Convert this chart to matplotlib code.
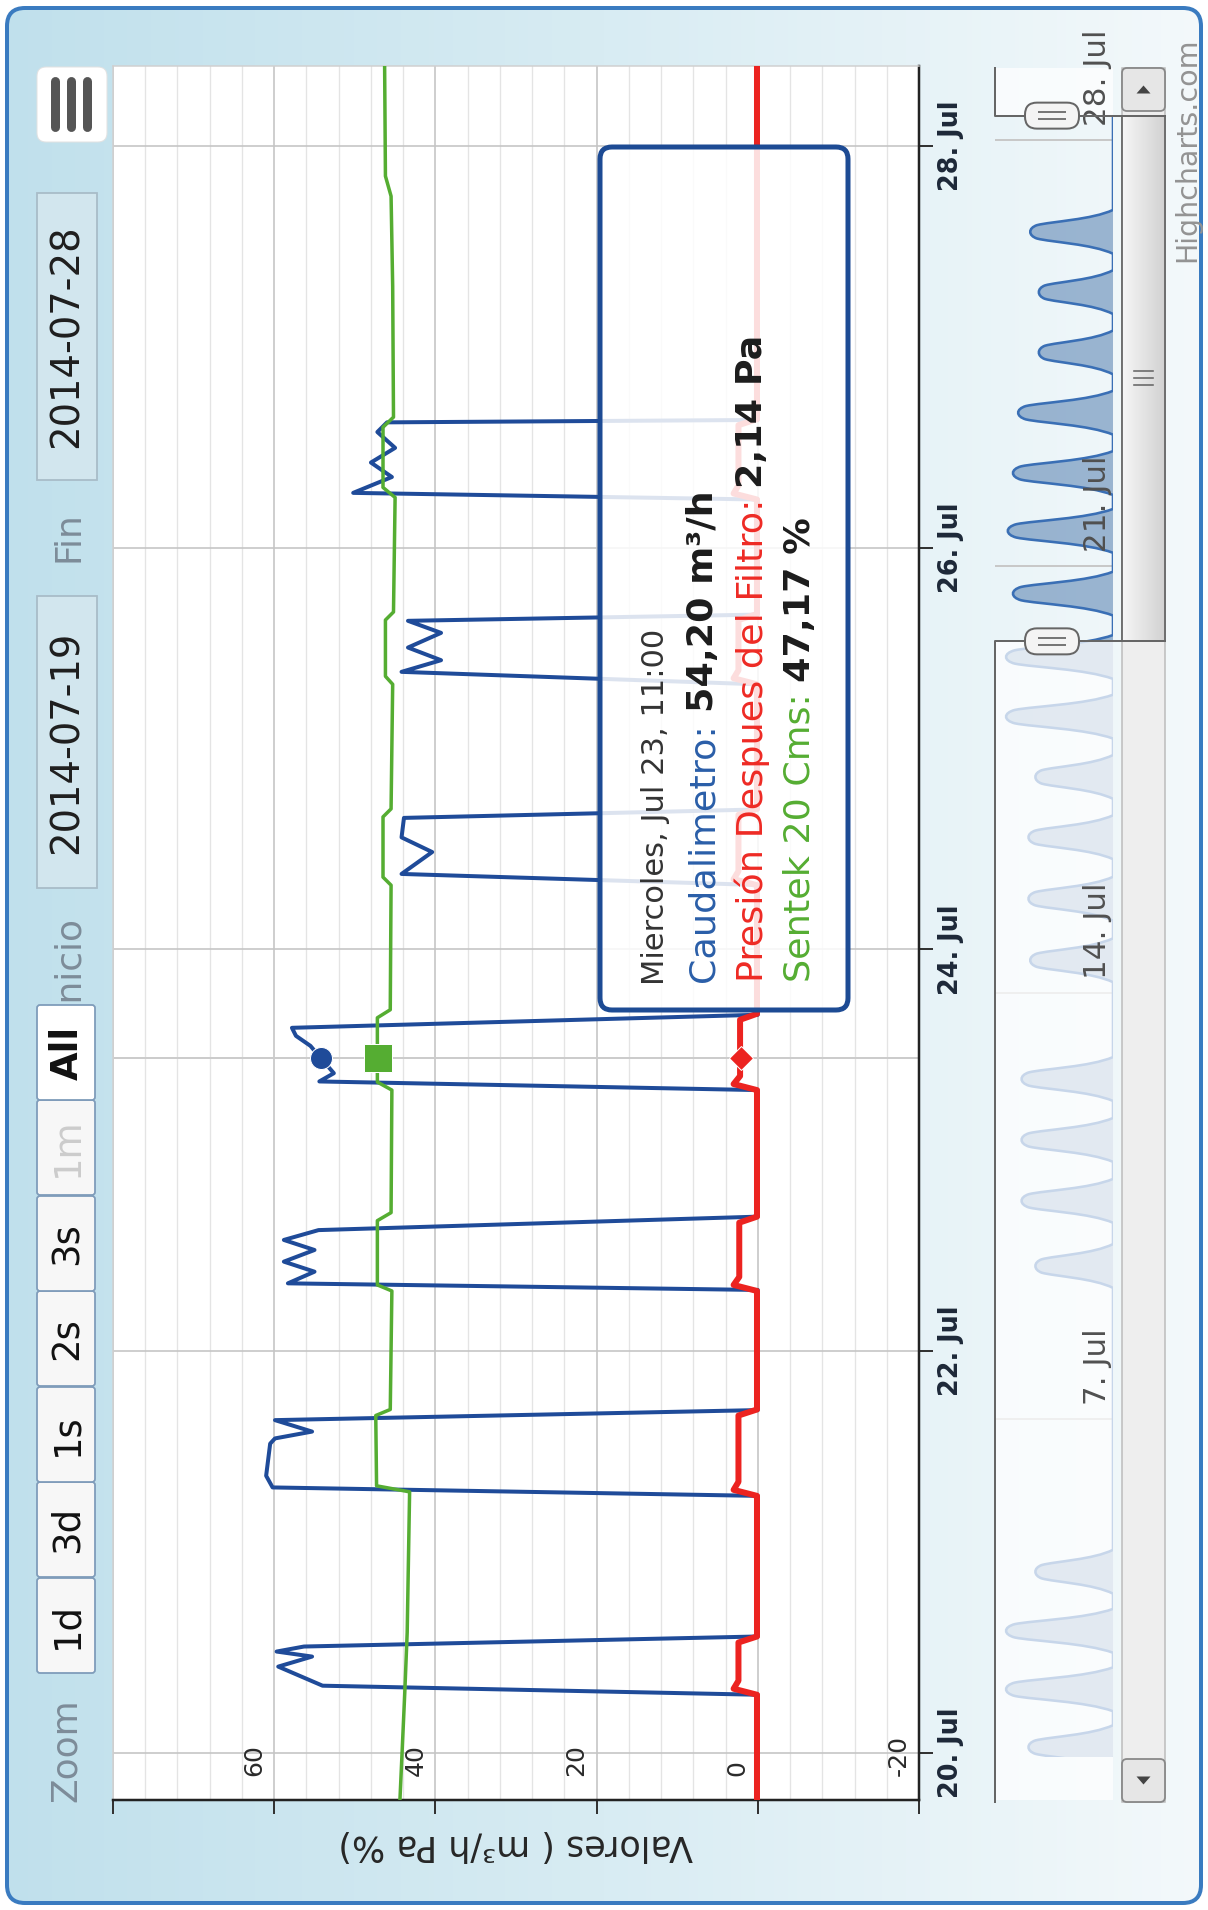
import numpy as np
import matplotlib
matplotlib.use('Agg')
import matplotlib.pyplot as plt
import matplotlib.transforms as mtransforms
from matplotlib.patches import FancyBboxPatch, Rectangle, Polygon, PathPatch
from matplotlib.path import Path
from matplotlib.colors import LinearSegmentedColormap

W, H = 1208, 1910

# time = day of July 2014 (fractional), values in m3/h, Pa, %
caud_t = [19.766,
          20.29, 20.335, 20.43, 20.48, 20.505, 20.53, 20.58,
          21.28, 21.322, 21.38, 21.54, 21.566, 21.60, 21.657, 21.707,
          22.305, 22.338, 22.396, 22.446, 22.504, 22.554, 22.603, 22.67,
          23.30, 23.343, 23.384, 23.458, 23.52, 23.57, 23.61, 23.675,
          24.321, 24.376, 24.485, 24.558, 24.655, 24.697,
          25.32, 25.382, 25.44, 25.503, 25.576, 25.636, 25.667,
          26.24, 26.273, 26.352, 26.424, 26.497, 26.576, 26.624, 26.636,
          28.40]
caud_v = [0,
          0, 54, 59.5, 55.3, 59.7, 56.3, 0,
          0, 60.2, 61, 60.5, 59.9, 55.3, 59.9, 0,
          0, 58.3, 55, 58.8, 55, 58.8, 54.5, 0,
          0, 54.4, 52.6, 54.2, 55.5, 57.3, 57.8, 0,
          0, 44.2, 40.4, 44.2, 43.9, 0,
          0, 44.2, 39.3, 43.4, 39.3, 43.4, 0,
          0, 50.2, 45.4, 48, 45, 47.2, 46, 0,
          0]

pres_t = [19.766, 20.29, 20.32, 20.36, 20.55, 20.58,
          21.28, 21.31, 21.35, 21.68, 21.71,
          22.30, 22.33, 22.37, 22.64, 22.67,
          23.30, 23.33, 23.37, 23.65, 23.68,
          24.32, 24.35, 24.39, 24.67, 24.70,
          25.32, 25.35, 25.39, 25.64, 25.67,
          26.24, 26.27, 26.31, 26.61, 26.64, 28.40]
pres_v = [0.1, 0.1, 3.0, 2.4, 2.4, 0.1,
          0.1, 3.0, 2.4, 2.4, 0.1,
          0.1, 3.0, 2.3, 2.3, 0.1,
          0.1, 3.0, 2.2, 2.2, 0.1,
          0.1, 3.0, 2.4, 2.4, 0.1,
          0.1, 3.0, 2.4, 2.4, 0.1,
          0.1, 3.0, 2.4, 2.4, 0.1, 0.1]

sent_t = [19.766, 20.3, 20.6, 21.30, 21.33, 21.68, 21.71, 22.30, 22.33, 22.65,
          22.69, 23.30, 23.34, 23.66, 23.70, 24.32, 24.36, 24.66, 24.70, 25.32,
          25.36, 25.64, 25.68, 26.25, 26.30, 26.60, 26.65, 27.30, 27.75, 27.85, 28.40]
sent_v = [44.4, 43.8, 43.5, 43.2, 47.3, 47.4, 45.6, 45.4, 47.2, 47.2,
          45.5, 45.4, 47.2, 47.2, 45.6, 45.5, 46.5, 46.5, 45.5, 45.3,
          46.2, 46.2, 45.2, 45.0, 46.5, 46.5, 45.2, 45.3, 45.5, 46.2, 46.3]

series_names = ['Caudalimetro', 'Presión Despues del Filtro', 'Sentek 20 Cms']
series_units = ['m³/h', 'Pa', '%']
series_colors = ['#1f4b99', '#ec2320', '#55ad32']
label_colors = ['#2a5ea8', '#ee2a24', '#55ad32']
hover_t = 23.458
hover_vals = [54.20, 2.14, 47.17]
hover_header = 'Miercoles, Jul 23, 11:00'

# navigator (grouped data, one pulse per working day)
nav_peak_t = [1.61, 2.56, 3.52, 4.49, 9.51, 10.58, 11.58, 12.58, 14.53, 15.54, 16.55,
              17.54, 18.53, 19.51, 20.55, 21.58, 22.53, 23.52, 24.51, 25.50, 26.49]
nav_peak_v = [49, 62, 62, 45, 45, 53, 53, 53, 48, 49, 49,
              45, 62, 62, 58, 61, 58, 55, 43, 43, 48]
nav_start, nav_end = 1.45, 28.40

day_ticks = [20, 22, 24, 26, 28]
day_labels = ['20. Jul', '22. Jul', '24. Jul', '26. Jul', '28. Jul']
val_ticks = [-20, 0, 20, 40, 60]
val_labels = ['-20', '0', '20', '40', '60']
nav_ticks = [7, 14, 21, 28]
nav_labels = ['7. Jul', '14. Jul', '21. Jul', '28. Jul']
zoom_buttons = ['1d', '3d', '1s', '2s', '3s', '1m', 'All']
date_from, date_to = '2014-07-19', '2014-07-28'
view_lo, view_hi = 19.766, 28.398


def pt(p):
    # pixels -> points at dpi 100
    return p * 0.72


plt.rcParams['font.family'] = 'DejaVu Sans'
fig = plt.figure(figsize=(W / 100, H / 100), dpi=100)

# ---- background (pixel coords, y down)
bg = fig.add_axes([0, 0, 1, 1], zorder=0)
bg.set_xlim(0, W)
bg.set_ylim(H, 0)
bg.axis('off')
cmap = LinearSegmentedColormap.from_list('bg', ['#c0e0ec', '#d8ecf3', '#f4f9fb'])
im = bg.imshow(np.linspace(0, 1, 256)[None, :], extent=(0, W, H, 0), aspect='auto', cmap=cmap)
frame = FancyBboxPatch((7, 8), W - 14, H - 15, boxstyle='round,pad=0,rounding_size=18',
                       fc='none', ec='#3a7bc0', lw=pt(4))
bg.add_patch(frame)
im.set_clip_path(frame)

# ---- main plot
ax = fig.add_axes([113 / W, 1 - 1800 / H, (919 - 113) / W, (1800 - 66) / H], zorder=2)
ax.set_facecolor('white')
ax.set_xlim(80, -20)
ax.set_ylim(view_lo, view_hi)
ax.set_xticks([-20, 0, 20, 40, 60, 80])
ax.set_xticks(np.arange(-20, 81, 4), minor=True)
ax.set_yticks(day_ticks)
ax.grid(which='major', axis='x', color='#c4c4c4', lw=pt(1.6))
ax.grid(which='minor', axis='x', color='#e4e4e4', lw=pt(1.3))
ax.grid(which='major', axis='y', color='#c4c4c4', lw=pt(1.6))
ax.set_axisbelow(True)
ax.tick_params(axis='x', which='major', direction='out', length=pt(14), width=pt(2),
               color='#333333', labelbottom=False)
ax.tick_params(axis='x', which='minor', length=0)
ax.tick_params(axis='y', which='major', direction='out', length=pt(14), width=pt(2),
               color='#333333', left=False, right=True, labelleft=False, labelright=False)
for s in ['bottom', 'right']:
    ax.spines[s].set_color('#222222')
    ax.spines[s].set_linewidth(pt(2.5))
for s in ['top', 'left']:
    ax.spines[s].set_color('#d0d0d0')
    ax.spines[s].set_linewidth(pt(1.5))

ax.axhline(hover_t, color='#cccccc', lw=pt(2), zorder=2)
ax.plot(caud_v, caud_t, color=series_colors[0], lw=pt(4), solid_joinstyle='round', zorder=3)
ax.plot(pres_v, pres_t, color=series_colors[1], lw=pt(6), solid_joinstyle='round', zorder=4)
ax.plot(sent_v, sent_t, color=series_colors[2], lw=pt(3.5), solid_joinstyle='round', zorder=5)
for v, c, m, s in zip(hover_vals, series_colors, ['o', 'D', 's'], [22, 17, 28]):
    ax.plot([v], [hover_t], marker=m, ms=pt(s), color=c, mec='white', mew=pt(1), zorder=6)

tr_days = mtransforms.blended_transform_factory(ax.transAxes, ax.transData)
tr_days = mtransforms.offset_copy(tr_days, fig=fig, x=pt(19), y=0, units='points')
for d, lab in zip(day_ticks, day_labels):
    ax.text(1, d, lab, transform=tr_days, rotation=90, rotation_mode='anchor',
            ha='center', va='top', fontsize=pt(25.5), fontweight='bold', color='#1d2838')

tr_vals = mtransforms.blended_transform_factory(ax.transData, ax.transAxes)
tr_vals = mtransforms.offset_copy(tr_vals, fig=fig, x=-pt(8), y=pt(24), units='points')
for v, lab in zip(val_ticks, val_labels):
    ax.text(v, 0, lab, transform=tr_vals, rotation=90, rotation_mode='anchor',
            ha='left', va='bottom', fontsize=pt(25), color='#2a2a2a', clip_on=False, zorder=7)

tr_title = mtransforms.offset_copy(ax.transAxes, fig=fig, x=0, y=-pt(45), units='points')
ax.text(0.5, 0, 'Valores ( m³/h Pa %)', transform=tr_title, rotation=180, ha='center',
        va='center', fontsize=pt(35), color='#262626')

# ---- navigator
nav = fig.add_axes([995 / W, 1 - 1800 / H, (1113 - 995) / W, (1800 - 68) / H], zorder=1)
nav.set_xlim(68.6, 0)
nav.set_ylim(0.742, 29.18)
nav.axis('off')
for d in nav_ticks:
    nav.axhline(d, color='#c8c8c8', lw=pt(2), zorder=1)

# each grouped pulse drawn as a smooth tongue (areaspline look)
verts = [(0, nav_start)]
codes = [Path.MOVETO]
for c, v in zip(nav_peak_t, nav_peak_v):
    verts += [(0, c - 0.36), (0.25 * v, c - 0.2), (0.75 * v, c - 0.17), (0.92 * v, c - 0.11),
              (1.03 * v, c - 0.06), (1.03 * v, c + 0.06), (0.92 * v, c + 0.11),
              (0.75 * v, c + 0.17), (0.25 * v, c + 0.2), (0, c + 0.36)]
    codes += [Path.LINETO] + [Path.CURVE4] * 9
verts.append((0, nav_end))
codes.append(Path.LINETO)
nav_path = Path(verts, codes)
clip = Rectangle((0, nav_start), 100, nav_end - nav_start, transform=nav.transData)
p_fill = PathPatch(nav_path, fc=(0.27, 0.45, 0.66, 0.5), ec='none', zorder=2)
p_line = PathPatch(nav_path, fc='none', ec='#3a6fb5', lw=pt(2.6), zorder=3)
for p in (p_fill, p_line):
    nav.add_patch(p)
    p.set_clip_path(clip)
nav.axhspan(0.742, view_lo, fc='white', alpha=0.72, lw=0, zorder=4)
nav.axhspan(view_hi, 29.18, fc='white', alpha=0.72, lw=0, zorder=4)

tr_nav = mtransforms.blended_transform_factory(nav.transAxes, nav.transData)
tr_nav = mtransforms.offset_copy(tr_nav, fig=fig, x=0, y=pt(14), units='points')
for d, lab in zip(nav_ticks, nav_labels):
    nav.text(0.745, d, lab, transform=tr_nav, rotation=90, rotation_mode='anchor',
             ha='left', va='top', fontsize=pt(31), color='#505050', zorder=5)

# ---- overlay (pixel coords)
ov = fig.add_axes([0, 0, 1, 1], zorder=5)
ov.set_xlim(0, W)
ov.set_ylim(H, 0)
ov.axis('off')
ov.patch.set_alpha(0)


def nav_y(t):
    return H - nav.transData.transform((0, t))[1]


y_lo, y_hi = nav_y(view_lo), nav_y(view_hi)
nb = nav.get_position()
nx0, nx1 = nb.x0 * W, nb.x1 * W
sx0, sx1 = nx1 + 9, nx1 + 52
stop, sbot = 68, 1802

# scrollbar
ov.add_patch(Rectangle((sx0, stop), sx1 - sx0, sbot - stop, fc='#eeeeee', ec='#bbbbbb', lw=pt(1.5)))
thumb = Rectangle((sx0, y_hi), sx1 - sx0, y_lo - y_hi, fc='none', ec='#666666', lw=pt(1.8), zorder=3)
tg = ov.imshow(np.linspace(0, 1, 64)[None, :], extent=(sx0, sx1, y_lo, y_hi), aspect='auto',
               cmap=LinearSegmentedColormap.from_list('th', ['#f6f6f6', '#d2d2d2']), zorder=2)
ov.add_patch(thumb)
tg.set_clip_path(thumb)
ym = (y_lo + y_hi) / 2
for k in (-7, 0, 7):
    ov.plot([sx0 + 12, sx1 - 12], [ym + k, ym + k], color='#666666', lw=pt(1.6), zorder=4)
for yb, up in ((stop, True), (sbot - 43, False)):
    ov.add_patch(FancyBboxPatch((sx0, yb), sx1 - sx0, 43, boxstyle='round,pad=0,rounding_size=5',
                                fc='#e6e6e6', ec='#888888', lw=pt(1.8), zorder=3))
    cx, cy = (sx0 + sx1) / 2, yb + 21.5
    tri = [(cx - 7, cy + 4), (cx + 7, cy + 4), (cx, cy - 4)] if up else \
          [(cx - 7, cy - 4), (cx + 7, cy - 4), (cx, cy + 4)]
    ov.add_patch(Polygon(tri, fc='#444444', ec='none', zorder=4))

# navigator outline and handles
ov.plot([nx0, nx0, sx1], [sbot, y_lo, y_lo], color='#666666', lw=pt(2), zorder=5)
ov.plot([sx1, nx0, nx0], [y_hi, y_hi, stop], color='#666666', lw=pt(2), zorder=5)
hx = (nx0 + nx1) / 2 - 2
for yh in (y_lo, y_hi):
    ov.add_patch(FancyBboxPatch((hx - 27, yh - 13), 54, 26, boxstyle='round,pad=0,rounding_size=12',
                                fc='#f4f4f4', ec='#666666', lw=pt(2), zorder=6))
    for k in (-3.5, 3.5):
        ov.plot([hx - 13, hx + 13], [yh + k, yh + k], color='#777777', lw=pt(2), zorder=7)

ov.text(1187, 262, 'Highcharts.com', rotation=90, rotation_mode='anchor', ha='left', va='center',
        fontsize=pt(28.5), color='#939393')

# range selector
bx0, bw = 37, 58
btn_y = [1578, 1482, 1387, 1291, 1196, 1100, 1005]
ov.text(66, 1802, 'Zoom', rotation=90, rotation_mode='anchor', ha='left', va='center',
        fontsize=pt(36), color='#7d8c99')
ov.text(68, 1010, 'Inicio', rotation=90, rotation_mode='anchor', ha='left', va='center',
        fontsize=pt(36), color='#7d8c99')
ov.text(68, 562, 'Fin', rotation=90, rotation_mode='anchor', ha='left', va='center',
        fontsize=pt(36), color='#7d8c99')
for y0, lab in zip(btn_y, zoom_buttons):
    sel = lab == 'All'
    ov.add_patch(FancyBboxPatch((bx0, y0), bw, 95, boxstyle='round,pad=0,rounding_size=3',
                                fc='white' if sel else '#f7f7f7', ec='#7f9cba', lw=pt(1.8), zorder=3))
    col = '#cccccc' if lab == '1m' else '#111111'
    ov.text(bx0 + bw / 2 + 1, y0 + 47.5, lab, rotation=90, rotation_mode='anchor', ha='center',
            va='center', fontsize=pt(37), color=col, fontweight='bold' if sel else 'normal', zorder=4)
for (y0, y1), lab in zip([(596, 888), (193, 480)], [date_from, date_to]):
    ov.add_patch(Rectangle((bx0, y0), 60, y1 - y0, fc='#d2e6ee', ec='#a8bcc8', lw=pt(1.8), zorder=3))
    ov.text(bx0 + 30, (y0 + y1) / 2, lab, rotation=90, rotation_mode='anchor', ha='center',
            va='center', fontsize=pt(38.5), color='#1e1e1e', zorder=4)

# export menu button (rotated hamburger: vertical bars)
ov.add_patch(FancyBboxPatch((37, 67), 70, 75, boxstyle='round,pad=0,rounding_size=9',
                            fc='white', ec='#e2e2e2', lw=pt(1), zorder=3))
for xb in (55, 71, 87):
    ov.plot([xb, xb], [81, 127], color='#555555', lw=pt(9), solid_capstyle='round', zorder=4)

# tooltip
ov.add_patch(FancyBboxPatch((600, 147), 248, 863, boxstyle='round,pad=0,rounding_size=12',
                            fc=(1, 1, 1, 0.85), ec='#1d4b94', lw=pt(5), zorder=8))
ov.text(655, 985, hover_header, rotation=90, rotation_mode='anchor', ha='left', va='center',
        fontsize=pt(30.5), color='#333333', zorder=9)
renderer = fig.canvas.get_renderer()
for xc, name, val, unit, col in zip([703, 752, 800], series_names, hover_vals, series_units,
                                    label_colors):
    t1 = ov.text(xc, 982, name + ':', rotation=90, rotation_mode='anchor', ha='left',
                 va='center', fontsize=pt(36.5), color=col, zorder=9)
    bb = t1.get_window_extent(renderer)
    ynext = H - bb.y1 - 11
    ov.text(xc, ynext, ('%.2f' % val).replace('.', ',') + ' ' + unit, rotation=90,
            rotation_mode='anchor', ha='left', va='center', fontsize=pt(36.5),
            fontweight='bold', color='#1c1c1c', zorder=9)

fig.savefig('out.png', dpi=100)
